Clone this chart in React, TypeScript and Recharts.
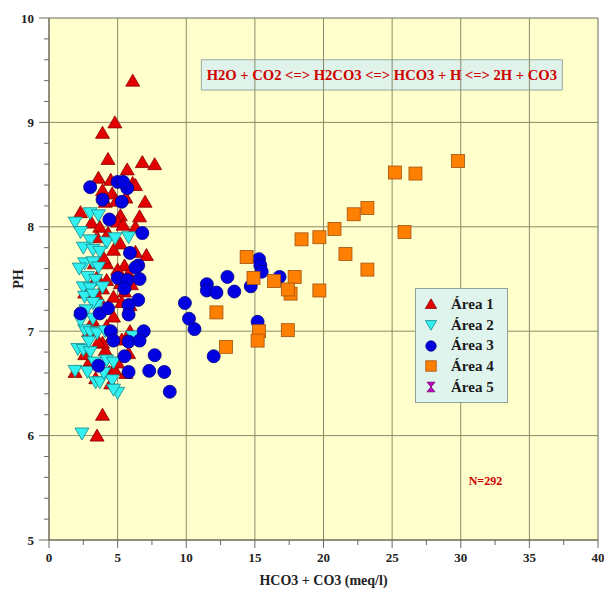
import {
  ScatterChart,
  Scatter,
  XAxis,
  YAxis,
  ReferenceLine,
  ReferenceArea,
  ReferenceDot,
  Legend,
} from "recharts";

type Pt = [number, number];

// [HCO3 + CO3 (meq/l), PH]
const AREA_1: Pt[] = [
  [6.1, 9.4], [4.8, 9.0], [3.9, 8.9], [4.3, 8.65], [6.8, 8.62], [7.7, 8.6], [5.7, 8.55], [3.6, 8.47], [6.1, 8.42],
  [2.3, 8.14], [3.9, 8.35], [4.6, 8.32], [6.3, 8.4], [7.0, 8.24], [4.1, 8.24], [5.2, 8.11], [3.1, 8.04], [3.7, 8.0],
  [5.0, 8.05], [5.4, 8.02], [6.3, 8.0], [4.3, 7.94], [3.5, 7.9], [5.2, 7.84], [7.1, 7.73], [6.3, 7.76], [4.7, 7.78],
  [4.2, 7.65], [5.5, 7.63], [5.0, 7.59], [3.5, 7.52], [4.2, 7.49], [5.2, 7.46], [3.9, 7.41], [2.6, 7.37], [3.6, 7.32],
  [4.7, 7.33], [5.5, 7.38], [5.9, 7.25], [3.9, 6.2], [3.5, 6.0], [1.9, 6.61], [4.4, 6.61], [4.8, 6.63], [3.0, 6.72],
  [4.1, 6.82], [5.0, 6.7], [5.8, 6.79], [5.3, 6.92], [3.9, 6.89], [4.7, 7.14], [5.3, 7.28], [4.5, 8.45], [5.6, 8.28],
  [6.6, 8.1], [4.0, 7.7], [5.8, 7.55], [3.2, 7.1], [4.2, 7.05], [3.6, 6.9], [2.6, 6.78], [4.5, 6.5], [3.4, 6.55],
  [5.9, 7.0], [6.0, 7.45], [4.9, 8.25], [3.3, 7.65], [2.9, 7.0], [4.6, 6.95], [5.6, 6.6],
];

const AREA_2: Pt[] = [
  [2.4, 6.02], [5.0, 6.41], [1.9, 6.62], [2.8, 6.61], [3.4, 6.51], [3.7, 6.51], [4.6, 6.53], [4.7, 6.44], [2.1, 6.83],
  [2.5, 6.82], [3.0, 6.8], [4.2, 6.72], [2.6, 7.01], [3.0, 6.99], [3.5, 6.98], [3.2, 7.12], [3.5, 7.25], [6.1, 6.95],
  [4.7, 6.7], [1.9, 8.04], [3.0, 8.13], [3.6, 8.11], [3.0, 7.87], [4.2, 7.85], [4.8, 7.89], [5.8, 7.9], [2.5, 7.8],
  [3.2, 7.78], [3.7, 7.76], [2.6, 7.65], [3.2, 7.66], [3.6, 7.61], [2.8, 7.52], [3.4, 7.49], [2.5, 7.42], [3.0, 7.41],
  [2.6, 7.33], [3.2, 7.35], [3.9, 7.42], [3.2, 7.27], [2.3, 7.95], [2.7, 7.2], [2.3, 7.1], [2.9, 6.9], [4.0, 6.6],
  [3.3, 6.7], [2.2, 7.6], [4.1, 7.0],
];

const AREA_3: Pt[] = [
  [3.0, 8.38], [5.0, 8.43], [5.7, 8.37], [5.4, 8.43], [3.9, 8.26], [5.3, 8.24], [4.4, 8.07], [6.8, 7.94], [5.9, 7.75],
  [6.5, 7.63], [6.3, 7.61], [5.0, 7.51], [5.7, 7.49], [6.6, 7.5], [5.5, 7.41], [6.5, 7.3], [2.3, 7.17], [3.7, 7.17],
  [4.3, 7.22], [5.8, 7.25], [5.8, 7.16], [4.5, 7.0], [6.9, 7.0], [4.7, 6.91], [5.8, 6.9], [6.6, 6.91], [5.5, 6.76],
  [7.7, 6.77], [3.6, 6.67], [5.8, 6.61], [7.3, 6.62], [8.4, 6.61], [8.8, 6.42],
  [15.3, 7.69], [15.4, 7.63], [15.5, 7.57], [16.8, 7.52], [14.7, 7.43], [13.0, 7.52], [13.5, 7.38], [11.5, 7.45],
  [11.5, 7.39], [12.2, 7.37], [9.9, 7.27], [10.2, 7.12], [10.6, 7.02], [15.2, 7.09], [12.0, 6.76],
];

const AREA_4: Pt[] = [
  [29.8, 8.63], [26.7, 8.51], [25.2, 8.52], [23.2, 8.18], [22.2, 8.12], [20.8, 7.98], [25.9, 7.95], [21.6, 7.74],
  [23.2, 7.59], [19.7, 7.9], [18.4, 7.88], [19.7, 7.39], [17.9, 7.52], [17.6, 7.36], [17.4, 7.4], [16.4, 7.48],
  [14.9, 7.51], [14.4, 7.71], [12.2, 7.18], [12.9, 6.85], [15.3, 7.0], [15.2, 6.91], [17.4, 7.01],
];

const AREA_5: Pt[] = [];

const X_TICKS = [0, 2.5, 5, 7.5, 10, 12.5, 15, 17.5, 20, 22.5, 25, 27.5, 30, 32.5, 35, 37.5, 40];
const Y_TICKS = [
  5, 5.2, 5.4, 5.6, 5.8, 6, 6.2, 6.4, 6.6, 6.8, 7, 7.2, 7.4, 7.6, 7.8, 8, 8.2, 8.4, 8.6, 8.8, 9, 9.2, 9.4, 9.6, 9.8, 10,
];
const GRID_X = [5, 10, 15, 20, 25, 30, 35];
const GRID_Y = [6, 7, 8, 9];

const EQUATION = "H2O + CO2 <=> H2CO3 <=> HCO3 + H <=> 2H + CO3";
const SAMPLE_COUNT = "N=292";

const FONT = "'Liberation Serif', 'Times New Roman', serif";
const AXIS_COLOR = "#6b6b5a";
const GRID_COLOR = "#8a8a6a";

type MarkerKind = "up" | "down" | "circle" | "square" | "hourglass";

const SERIES: { name: string; data: Pt[]; kind: MarkerKind; fill: string; stroke: string }[] = [
  { name: "Área 1", data: AREA_1, kind: "up", fill: "#e20000", stroke: "#8a0000" },
  { name: "Área 2", data: AREA_2, kind: "down", fill: "#33f0f0", stroke: "#10888c" },
  { name: "Área 3", data: AREA_3, kind: "circle", fill: "#0000e0", stroke: "#000088" },
  { name: "Área 4", data: AREA_4, kind: "square", fill: "#ff8000", stroke: "#a35010" },
  { name: "Área 5", data: AREA_5, kind: "hourglass", fill: "#c000c0", stroke: "#700070" },
];

function Marker({ kind, cx, cy, fill, stroke, s = 1 }: any) {
  if (kind === "up") {
    return <polygon points={`${cx},${cy - 6.5 * s} ${cx + 7 * s},${cy + 5.5 * s} ${cx - 7 * s},${cy + 5.5 * s}`} fill={fill} stroke={stroke} strokeWidth={0.8} />;
  }
  if (kind === "down") {
    return <polygon points={`${cx - 7 * s},${cy - 5.5 * s} ${cx + 7 * s},${cy - 5.5 * s} ${cx},${cy + 6.5 * s}`} fill={fill} stroke={stroke} strokeWidth={0.8} />;
  }
  if (kind === "circle") {
    return <circle cx={cx} cy={cy} r={6.5 * s} fill={fill} stroke={stroke} strokeWidth={0.8} />;
  }
  if (kind === "square") {
    return <rect x={cx - 6.5 * s} y={cy - 6.5 * s} width={13 * s} height={13 * s} fill={fill} stroke={stroke} strokeWidth={0.8} />;
  }
  return (
    <path
      d={`M${cx - 5 * s},${cy - 6 * s} L${cx + 5 * s},${cy - 6 * s} L${cx - 5 * s},${cy + 6 * s} L${cx + 5 * s},${cy + 6 * s} Z`}
      fill={fill}
      stroke={stroke}
      strokeWidth={0.8}
    />
  );
}

const XTick = ({ x, y, payload }: any) => {
  const major = payload.value % 5 === 0;
  return (
    <g>
      <line x1={x} y1={y - 8} x2={x} y2={y - 8 + (major ? 8 : 5)} stroke={AXIS_COLOR} />
      {major && (
        <text x={x} y={y + 14} textAnchor="middle" fontFamily={FONT} fontWeight="bold" fontSize={13} fill="#222">
          {payload.value}
        </text>
      )}
    </g>
  );
};

const YTick = ({ x, y, payload }: any) => {
  const major = Number.isInteger(payload.value);
  return (
    <g>
      <line x1={x + 10} y1={y} x2={x + 10 - (major ? 10 : 5)} y2={y} stroke={AXIS_COLOR} />
      {major && (
        <text x={x - 5} y={y + 4.5} textAnchor="end" fontFamily={FONT} fontWeight="bold" fontSize={13} fill="#222">
          {payload.value}
        </text>
      )}
    </g>
  );
};

const LegendBox = () => (
  <div
    style={{
      width: 93,
      height: 115,
      boxSizing: "border-box",
      background: "#e0f4ee",
      border: "1px solid #8fa39a",
      padding: "5px 0 0 8px",
      fontFamily: FONT,
    }}
  >
    {SERIES.map((s) => (
      <div key={s.name} style={{ display: "flex", alignItems: "center", height: 20.7 }}>
        <svg width={14} height={14}>
          <Marker kind={s.kind} cx={7} cy={7} fill={s.fill} stroke={s.stroke} s={0.8} />
        </svg>
        <span style={{ marginLeft: 13, fontWeight: "bold", fontSize: 15, color: "#1a1a1a" }}>{s.name}</span>
      </div>
    ))}
  </div>
);

export default function App() {
  return (
    <div style={{ width: 604, height: 590, background: "#fff" }}>
      <style>{"body{margin:0}"}</style>
      <ScatterChart width={604} height={590} margin={{ top: 18, right: 6, bottom: 0, left: 0 }}>
        <XAxis
          type="number"
          dataKey="x"
          domain={[0, 40]}
          ticks={X_TICKS}
          interval={0}
          tick={<XTick />}
          tickLine={false}
          tickSize={8}
          tickMargin={0}
          height={50}
          axisLine={{ stroke: AXIS_COLOR }}
          allowDataOverflow
          label={{
            value: "HCO3 + CO3 (meq/l)",
            position: "insideBottom",
            offset: 5,
            fontFamily: FONT,
            fontWeight: "bold",
            fontSize: 14,
            fill: "#222",
          }}
        />
        <YAxis
          type="number"
          dataKey="y"
          domain={[5, 10]}
          ticks={Y_TICKS}
          interval={0}
          tick={<YTick />}
          tickLine={false}
          tickSize={10}
          tickMargin={0}
          width={49}
          axisLine={{ stroke: AXIS_COLOR }}
          allowDataOverflow
          label={{
            value: "PH",
            angle: -90,
            position: "center",
            dx: -6,
            fontFamily: FONT,
            fontWeight: "bold",
            fontSize: 14,
            fill: "#222",
          }}
        />
        <ReferenceArea x1={0} x2={40} y1={5} y2={10} fill="#ffffcc" fillOpacity={1} stroke={AXIS_COLOR} />
        {GRID_X.map((v) => (
          <ReferenceLine key={`gx${v}`} x={v} stroke={GRID_COLOR} />
        ))}
        {GRID_Y.map((v) => (
          <ReferenceLine key={`gy${v}`} y={v} stroke={GRID_COLOR} />
        ))}
        <ReferenceArea
          x1={11.1}
          x2={37.4}
          y1={9.31}
          y2={9.6}
          fill="#dff3ea"
          fillOpacity={1}
          stroke="#97aaa2"
          label={{
            value: EQUATION,
            position: "center",
            fontFamily: FONT,
            fontWeight: "bold",
            fontSize: 14.6,
            fill: "#d00000",
          }}
        />
        <ReferenceDot
          x={31.8}
          y={5.57}
          r={0}
          fill="none"
          stroke="none"
          label={{
            value: SAMPLE_COUNT,
            position: "center",
            fontFamily: FONT,
            fontWeight: "bold",
            fontSize: 12,
            fill: "#d00000",
          }}
        />
        {SERIES.map((s) => (
          <Scatter
            key={s.name}
            name={s.name}
            data={s.data.map(([x, y]) => ({ x, y }))}
            isAnimationActive={false}
            shape={(p: any) => <Marker kind={s.kind} cx={p.cx} cy={p.cy} fill={s.fill} stroke={s.stroke} />}
          />
        ))}
        <Legend
          layout="vertical"
          align="center"
          verticalAlign="middle"
          content={<LegendBox />}
          wrapperStyle={{ left: 415, top: 288, width: 93, height: 115 }}
        />
      </ScatterChart>
    </div>
  );
}
